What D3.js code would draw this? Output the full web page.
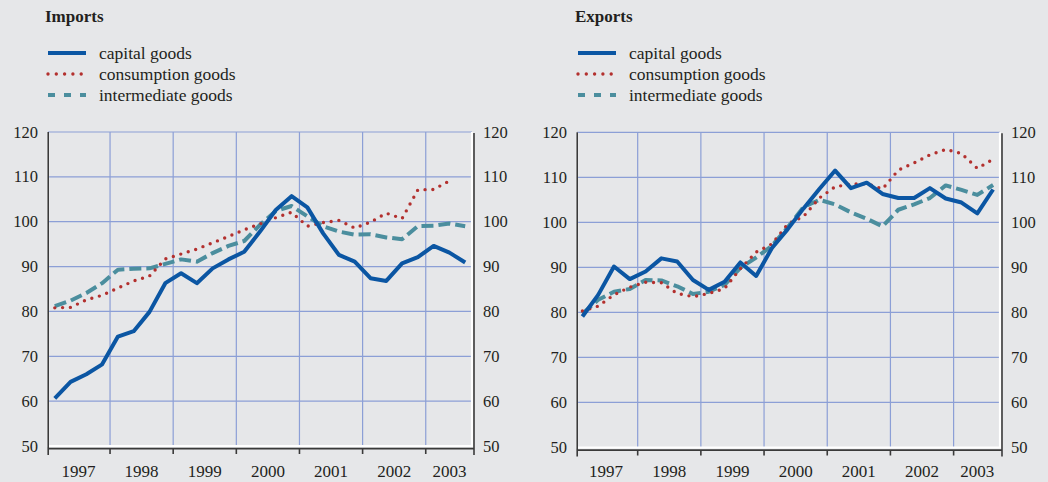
<!DOCTYPE html>
<html>
<head>
<meta charset="utf-8">
<script src="https://cdn.jsdelivr.net/npm/d3@7"></script>
<style>
  body { margin: 0; background: #e6e7e9; }
  svg { display: block; }
</style>
</head>
<body>
<div id="chart"></div>
<script>
// quarterly data, 1997Q1 - 2003Q3
const quarters = ["1997Q1","1997Q2","1997Q3","1997Q4","1998Q1","1998Q2","1998Q3","1998Q4",
  "1999Q1","1999Q2","1999Q3","1999Q4","2000Q1","2000Q2","2000Q3","2000Q4",
  "2001Q1","2001Q2","2001Q3","2001Q4","2002Q1","2002Q2","2002Q3","2002Q4",
  "2003Q1","2003Q2","2003Q3"];
const years = ["1997","1998","1999","2000","2001","2002","2003"];
const yTicks = [50, 60, 70, 80, 90, 100, 110, 120];
const seriesNames = ["capital goods", "consumption goods", "intermediate goods"];

const importsCapital = [60.6, 64.3, 66.0, 68.2, 74.4, 75.6, 79.9, 86.3, 88.5, 86.3, 89.6, 91.6, 93.3, 97.8,
  102.6, 105.7, 103.2, 97.4, 92.6, 91.1, 87.4, 86.8, 90.7, 92.1, 94.6, 93.1, 90.9];
const importsConsumption = [80.8, 80.9, 82.6, 83.6, 85.2, 86.8, 87.9, 91.7, 92.8, 93.9, 95.3, 96.7, 98.2, 99.5,
  100.9, 102.1, 99.0, 99.8, 100.3, 98.6, 99.9, 101.9, 100.7, 107.1, 107.2, 109.1];
const importsIntermediate = [81.2, 82.4, 84.1, 86.3, 89.3, 89.5, 89.6, 90.6, 91.6, 91.1, 93.0, 94.6, 95.7, 99.3,
  102.4, 103.5, 101.2, 99.0, 97.8, 97.1, 97.2, 96.5, 96.1, 99.0, 99.1, 99.6, 99.0];

const exportsCapital = [79.1, 83.9, 90.2, 87.4, 89.1, 92.0, 91.3, 87.2, 85.0, 86.8, 91.1, 88.1, 94.3, 98.5,
  103.1, 107.4, 111.5, 107.6, 108.8, 106.3, 105.4, 105.4, 107.6, 105.3, 104.4, 102.0, 107.3];
const exportsConsumption = [80.3, 81.4, 83.9, 85.6, 86.7, 86.6, 84.2, 83.5, 84.2, 85.3, 89.7, 93.4, 95.2, 99.6,
  101.3, 105.4, 107.9, 108.5, 108.6, 107.4, 111.6, 113.2, 115.0, 116.2, 115.3, 112.0, 114.0];
const exportsIntermediate = [79.7, 82.8, 84.6, 85.2, 87.2, 87.1, 85.8, 84.1, 84.6, 86.1, 89.9, 92.2, 94.8, 98.9,
  103.4, 105.0, 104.0, 102.2, 100.8, 99.1, 102.8, 104.0, 105.4, 108.2, 107.2, 106.1, 108.3];

const styles = [
  { color: "#0b56a3", width: 4, dash: null, legendDash: null, cap: "butt" },
  { color: "#b3302e", width: 3.4, dash: "0,7.8", legendDash: "0,8.3", cap: "round" },
  { color: "#4b8e9e", width: 4, dash: "12,5", legendDash: "7,9", cap: "butt" }
];

const W = 1048, H = 482;
const svg = d3.select("#chart").append("svg").attr("width", W).attr("height", H)
  .attr("font-family", "'Liberation Serif', 'Times New Roman', Times, serif");
svg.append("rect").attr("width", W).attr("height", H).attr("fill", "#e6e7e9");

function drawPanel(title, series, p) {
  const g = svg.append("g").attr("fill", "#231f20");
  const x = d3.scaleBand().domain(quarters).range([p.xs0, p.xs1]).paddingInner(0).paddingOuter(0);
  const y = d3.scaleLinear().domain([50, 120]).range([p.y1, p.y0]);
  const cx = q => x(q) + x.bandwidth() / 2;

  // title and legend
  g.append("text").attr("x", p.tx).attr("y", 21.5).text(title)
    .style("font-size", "17px").style("font-weight", "bold");
  seriesNames.forEach((name, i) => {
    const ly = 53 + i * 21;
    const s = styles[i];
    g.append("line").attr("x1", p.tx + 3).attr("x2", p.tx + 41).attr("y1", ly).attr("y2", ly)
      .attr("stroke", s.color).attr("stroke-width", s.width).attr("stroke-linecap", s.cap)
      .attr("stroke-dasharray", s.legendDash);
    g.append("text").attr("x", p.tx + 54).attr("y", ly + 6).text(name).style("font-size", "17.5px");
  });

  // grid
  g.selectAll(".hgrid").data(yTicks.filter(v => v > 50)).join("line")
    .attr("x1", p.x0).attr("x2", p.x1).attr("y1", d => y(d)).attr("y2", d => y(d))
    .attr("stroke", "#8c9fd6").attr("stroke-width", 1.2);
  g.selectAll(".vgrid").data(years.slice(1)).join("line")
    .attr("x1", d => x(d + "Q1")).attr("x2", d => x(d + "Q1"))
    .attr("y1", p.y0).attr("y2", p.y1)
    .attr("stroke", "#8c9fd6").attr("stroke-width", 1.2);

  // white frame
  g.append("path")
    .attr("d", `M${p.x0},${p.y0}V${p.y1}H${p.x1}V${p.y0}`)
    .attr("fill", "none").attr("stroke", "#fff").attr("stroke-width", 2.2);

  // dark axis lines
  const dark = "#3a3a3a";
  g.append("line").attr("x1", p.x0 + 0.2).attr("x2", p.x0 + 0.2).attr("y1", p.y0).attr("y2", p.y1 + 9)
    .attr("stroke", dark).attr("stroke-width", 1.6);
  g.append("line").attr("x1", p.x1 + 2).attr("x2", p.x1 + 2).attr("y1", p.y0 + 1).attr("y2", p.y1 + 9)
    .attr("stroke", dark).attr("stroke-width", 1.6);
  g.append("line").attr("x1", p.x0).attr("x2", p.x1 + 2).attr("y1", p.y1 + 2.6).attr("y2", p.y1 + 2.6)
    .attr("stroke", dark).attr("stroke-width", 1.6);
  g.selectAll(".xtick").data(years.slice(1)).join("line")
    .attr("x1", d => x(d + "Q1")).attr("x2", d => x(d + "Q1"))
    .attr("y1", p.y1 + 2.6).attr("y2", p.y1 + 8)
    .attr("stroke", dark).attr("stroke-width", 1.6);

  // year labels
  g.selectAll(".year").data(years).join("text")
    .attr("x", d => {
      const qs = quarters.filter(q => q.startsWith(d));
      return (x(qs[0]) + x(qs[qs.length - 1]) + x.bandwidth()) / 2;
    })
    .attr("y", 476.5).attr("text-anchor", "middle").text(d => d)
    .style("font-size", "17px");

  // y labels both sides
  g.selectAll(".yl").data(yTicks).join("text")
    .attr("x", p.x0 - 10).attr("y", d => y(d) + 5.5).attr("text-anchor", "end").text(d => d)
    .style("font-size", "16.5px");
  g.selectAll(".yr").data(yTicks).join("text")
    .attr("x", p.x1 + 11).attr("y", d => y(d) + 5.5).attr("text-anchor", "start").text(d => d)
    .style("font-size", "16.5px");

  // series, drawn intermediate, consumption, capital
  [2, 1, 0].forEach(i => {
    const s = styles[i];
    const line = d3.line().x((d, j) => cx(quarters[j])).y(d => y(d));
    g.append("path").datum(series[i]).attr("d", line)
      .attr("fill", "none").attr("stroke", s.color).attr("stroke-width", s.width)
      .attr("stroke-linecap", s.cap).attr("stroke-linejoin", "round")
      .attr("stroke-dasharray", s.dash);
  });
}

drawPanel("Imports", [importsCapital, importsConsumption, importsIntermediate],
  { tx: 45, x0: 48, x1: 472, xs0: 46.9, xs1: 473.1, y0: 132, y1: 446 });
drawPanel("Exports", [exportsCapital, exportsConsumption, exportsIntermediate],
  { tx: 575, x0: 577, x1: 1000, xs0: 574.5, xs1: 1001, y0: 132.3, y1: 447.5 });
</script>
</body>
</html>
